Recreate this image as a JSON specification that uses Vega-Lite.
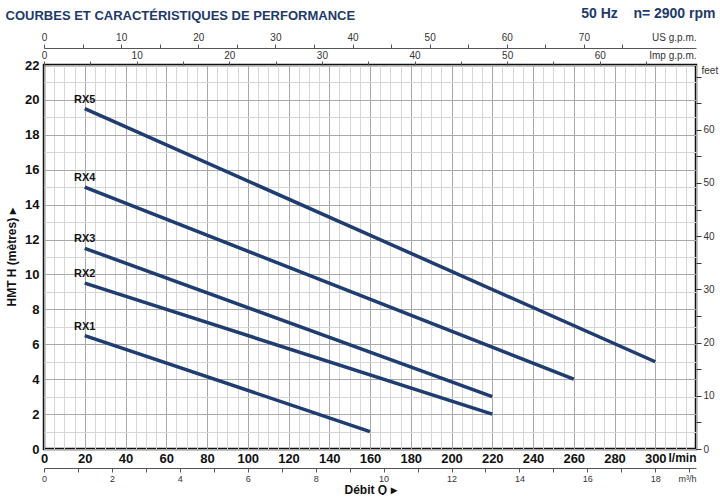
{
  "$schema": "https://vega.github.io/schema/vega-lite/v6.json",
  "width": 652,
  "height": 384,
  "padding": {"left": 5, "top": 6, "right": 0, "bottom": 0},
  "background": "white",
  "view": {"stroke": "#111", "strokeWidth": 2.5},
  "title": {
    "text": "COURBES ET CARACTÉRISTIQUES DE PERFORMANCE",
    "anchor": "start",
    "frame": "bounds",
    "font": "Liberation Sans, sans-serif",
    "fontSize": 13,
    "fontWeight": "bold",
    "color": "#1d3a6a",
    "offset": -17
  },
  "config": {
    "font": "Liberation Sans, sans-serif"
  },
  "datasets": {
    "curves": [
      {"model": "RX1", "q": 20, "h": 6.5},
      {"model": "RX1", "q": 160, "h": 1.0},
      {"model": "RX2", "q": 20, "h": 9.5},
      {"model": "RX2", "q": 220, "h": 2.0},
      {"model": "RX3", "q": 20, "h": 11.5},
      {"model": "RX3", "q": 220, "h": 3.0},
      {"model": "RX4", "q": 20, "h": 15.0},
      {"model": "RX4", "q": 260, "h": 4.0},
      {"model": "RX5", "q": 20, "h": 19.5},
      {"model": "RX5", "q": 300, "h": 5.0}
    ]
  },
  "resolve": {
    "scale": {"x": "independent", "y": "independent"},
    "axis": {"x": "independent", "y": "independent"}
  },
  "layer": [
    {
      "data": {"name": "curves"},
      "mark": {"type": "line", "color": "#1f3d70", "strokeWidth": 3.5},
      "encoding": {
        "detail": {"field": "model"},
        "x": {
          "field": "q", "type": "quantitative",
          "scale": {"domain": [0, 320], "nice": false},
          "axis": {
            "orient": "bottom", "title": null,
            "values": [0,5,10,15,20,25,30,35,40,45,50,55,60,65,70,75,80,85,90,95,100,105,110,115,120,125,130,135,140,145,150,155,160,165,170,175,180,185,190,195,200,205,210,215,220,225,230,235,240,245,250,255,260,265,270,275,280,285,290,295,300,305,310,315,320],
            "labelExpr": "datum.value == 320 ? 'l/min' : (datum.value % 20 == 0 ? datum.label : '')",
            "labelAlign": {"condition": {"test": "datum.value == 320", "value": "right"}, "value": "center"},
            "labelFontSize": {"condition": {"test": "datum.value == 320", "value": 12}, "value": 13},
            "labelOverlap": false,
            "labelFlush": false,
            "labelFontWeight": "bold",
            "labelColor": "#111",
            "labelPadding": 3,
            "ticks": false,
            "domain": false,
            "grid": true,
            "gridColor": {"condition": {"test": "datum.value % 20 == 0", "value": "#a8a8a8"}, "value": "#d6d6d6"},
            "gridWidth": 1
          }
        },
        "y": {
          "field": "h", "type": "quantitative",
          "scale": {"domain": [0, 22], "nice": false},
          "axis": {
            "orient": "left",
            "title": "HMT H (mètres) ▸",
            "titleFontSize": 12,
            "titleFontWeight": "bold",
            "titleColor": "#111",
            "titlePadding": 6,
            "format": "d",
            "values": [0,0.5,1,1.5,2,2.5,3,3.5,4,4.5,5,5.5,6,6.5,7,7.5,8,8.5,9,9.5,10,10.5,11,11.5,12,12.5,13,13.5,14,14.5,15,15.5,16,16.5,17,17.5,18,18.5,19,19.5,20,20.5,21,21.5,22],
            "labelExpr": "datum.value % 2 == 0 ? datum.label : ''",
            "labelOverlap": false,
            "labelFlush": false,
            "labelFontSize": 13,
            "labelFontWeight": "bold",
            "labelColor": "#111",
            "labelPadding": 5,
            "ticks": false,
            "domain": false,
            "grid": true,
            "gridColor": {"condition": {"test": "datum.value % 2 == 0", "value": "#a8a8a8"}, "value": "#d6d6d6"},
            "gridWidth": 1
          }
        }
      }
    },
    {
      "data": {"name": "curves"},
      "transform": [{"filter": "datum.q == 20"}],
      "mark": {"type": "text", "align": "center", "baseline": "bottom", "dy": -4, "fontSize": 11, "fontWeight": "bold", "color": "#111"},
      "encoding": {
        "x": {"field": "q", "type": "quantitative", "scale": {"domain": [0, 320], "nice": false}, "axis": null},
        "y": {"field": "h", "type": "quantitative", "scale": {"domain": [0, 22], "nice": false}, "axis": null},
        "text": {"field": "model"}
      }
    },
    {
      "data": {"name": "curves"},
      "mark": {"type": "point", "opacity": 0},
      "encoding": {
        "x": {
          "field": "q", "type": "quantitative",
          "scale": {"domain": [0, 84.535], "nice": false},
          "axis": {
            "orient": "top", "offset": 17,
            "title": "50 Hz\u00a0\u00a0\u00a0\u00a0n= 2900 rpm",
            "titleFont": "Liberation Sans, sans-serif",
            "titleFontSize": 14,
            "titleFontWeight": "bold",
            "titleColor": "#1d3a6a",
            "titleAnchor": "end",
            "titleAlign": "right",
            "titleBaseline": "middle",
            "titleX": 671,
            "titleY": -35,
            "values": [0,5,10,15,20,25,30,35,40,45,50,55,60,65,70,75,84.535],
            "labelExpr": "datum.value > 84 ? 'US g.p.m.' : (datum.value % 10 == 0 ? datum.label : '')",
            "labelAlign": {"condition": {"test": "datum.value > 84", "value": "right"}, "value": "center"},
            "labelOverlap": false,
            "labelFlush": false,
            "labelFontSize": 10,
            "labelColor": "#333",
            "labelPadding": 2,
            "tickSize": 4,
            "tickColor": "#555",
            "tickOpacity": {"condition": {"test": "datum.value > 84", "value": 0}, "value": 1},
            "domain": true,
            "domainColor": "#555",
            "grid": false
          }
        },
        "y": {
          "field": "h", "type": "quantitative",
          "scale": {"domain": [0, 72.18], "nice": false},
          "axis": {
            "orient": "right",
            "title": "feet",
            "titleAngle": 0,
            "titleFontSize": 10,
            "titleFontWeight": "normal",
            "titleColor": "#333",
            "titleAlign": "left",
            "titleBaseline": "middle",
            "titleX": 5,
            "titleY": 5,
            "values": [0,5,10,15,20,25,30,35,40,45,50,55,60,65,70],
            "labelExpr": "(datum.value % 10 == 0 && datum.value <= 60) ? datum.label : ''",
            "labelOverlap": false,
            "labelFlush": false,
            "labelFontSize": 10,
            "labelColor": "#333",
            "labelPadding": 2,
            "tickSize": 5,
            "tickColor": "#333",
            "domain": false,
            "grid": false
          }
        }
      }
    },
    {
      "data": {"name": "curves"},
      "mark": {"type": "point", "opacity": 0},
      "encoding": {
        "x": {
          "field": "q", "type": "quantitative",
          "scale": {"domain": [0, 70.39], "nice": false},
          "axis": {
            "orient": "top", "offset": 0, "title": null,
            "values": [0,5,10,15,20,25,30,35,40,45,50,55,60,65,70.39],
            "labelExpr": "datum.value > 70 ? 'Imp g.p.m.' : (datum.value % 10 == 0 ? datum.label : '')",
            "labelAlign": {"condition": {"test": "datum.value > 70", "value": "right"}, "value": "center"},
            "labelOverlap": false,
            "labelFlush": false,
            "labelFontSize": 10,
            "labelColor": "#333",
            "labelPadding": 1,
            "tickSize": 4,
            "tickColor": "#555",
            "tickOpacity": {"condition": {"test": "datum.value > 70", "value": 0}, "value": 1},
            "domain": false,
            "grid": false
          }
        }
      }
    },
    {
      "data": {"name": "curves"},
      "mark": {"type": "point", "opacity": 0},
      "encoding": {
        "x": {
          "field": "q", "type": "quantitative",
          "scale": {"domain": [0, 19.2], "nice": false},
          "axis": {
            "orient": "bottom", "offset": 19,
            "title": "Débit Q ▸",
            "titleFontSize": 12,
            "titleFontWeight": "bold",
            "titleColor": "#111",
            "titlePadding": 1,
            "values": [0,1,2,3,4,5,6,7,8,9,10,11,12,13,14,15,16,17,18,19,19.2],
            "labelExpr": "datum.value > 19.1 ? 'm³/h' : (datum.value % 2 == 0 ? datum.label : '')",
            "labelAlign": {"condition": {"test": "datum.value > 19.1", "value": "right"}, "value": "center"},
            "labelOverlap": false,
            "labelFlush": false,
            "labelFontSize": 9,
            "labelColor": "#333",
            "labelPadding": 2,
            "tickSize": 4,
            "tickColor": "#555",
            "tickOpacity": {"condition": {"test": "datum.value > 19.1", "value": 0}, "value": 1},
            "domain": true,
            "domainColor": "#555",
            "grid": false
          }
        }
      }
    }
  ]
}
